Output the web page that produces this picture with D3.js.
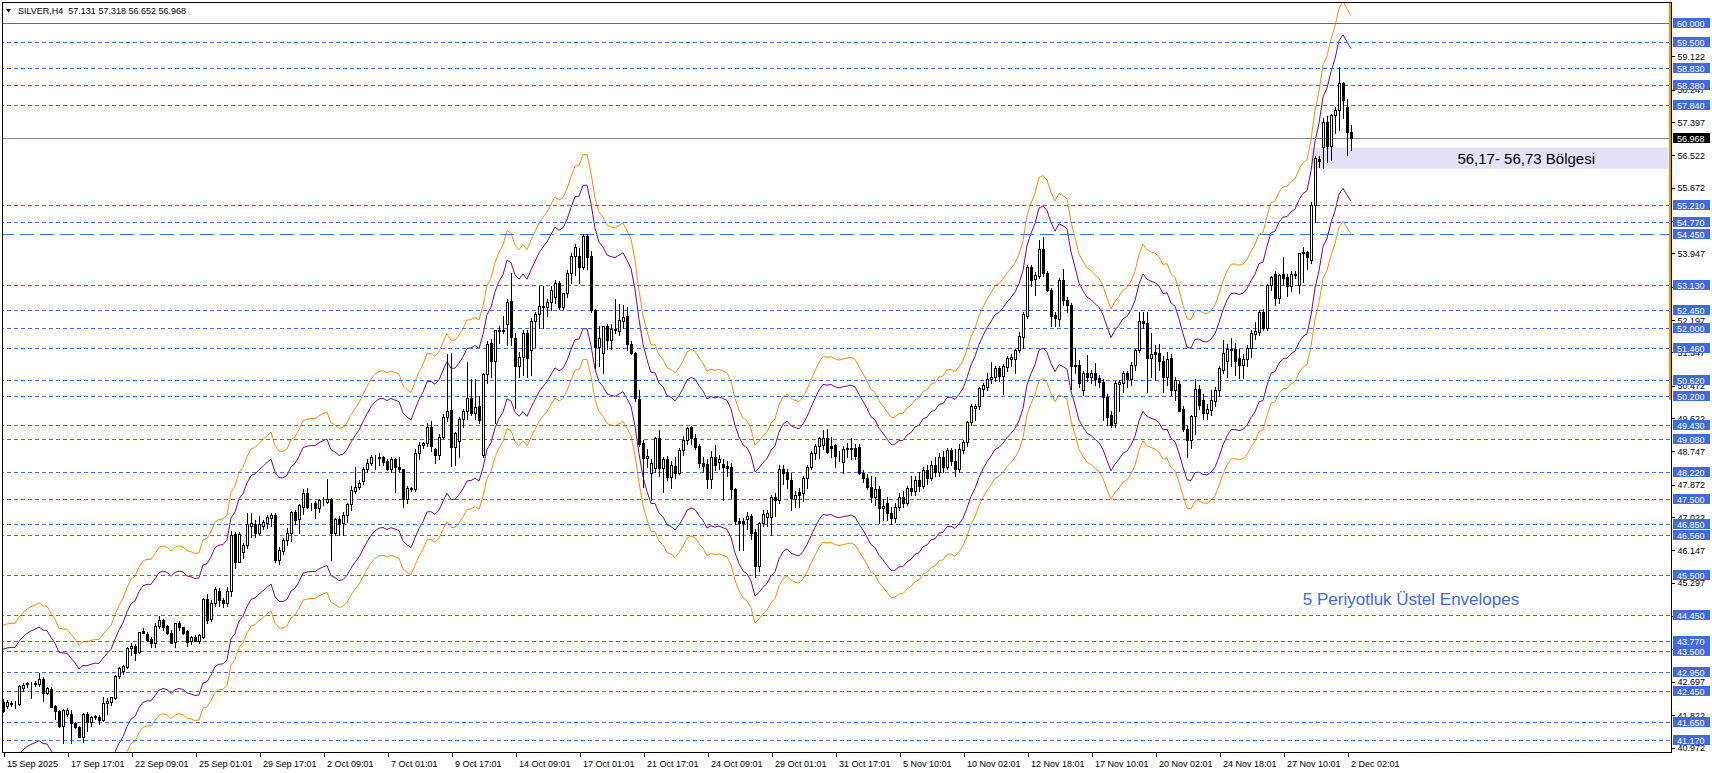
<!DOCTYPE html>
<html><head><meta charset="utf-8">
<script src="https://cdn.jsdelivr.net/npm/d3@7"></script>
<style>
body{margin:0;background:#fff;}
svg{display:block;font-family:"Liberation Sans",Arial,sans-serif;}
</style>
</head><body><svg id="c" width="1712" height="773"></svg>
<script>
// ---------------- DATA ----------------
const symbolTitle = "SILVER,H4";
const lastBarText = ["57.131", "57.318", "56.652", "56.968"];

const opens = [
42.18,42.05,42.12,42.14,42.12,42.53,42.65,42.66,42.64,42.64,42.76,42.41,42.50,42.05,41.94,41.54,41.85,41.85,41.61,41.50,
41.26,41.85,41.63,41.78,41.78,41.70,42.13,42.18,42.27,42.85,42.99,43.10,43.58,43.64,43.49,44.04,43.95,43.81,43.73,44.16,
44.32,44.16,43.99,43.75,44.25,44.13,44.02,43.78,43.88,43.78,43.88,44.86,44.34,44.78,45.09,44.85,44.76,45.07,46.58,45.85,
46.12,46.29,46.80,46.84,46.61,46.79,46.86,46.99,47.08,45.90,46.14,46.42,46.60,47.16,46.97,47.30,47.65,47.30,47.40,47.25,
47.46,47.43,47.49,46.60,46.97,46.86,47.08,47.37,47.72,47.81,47.96,48.28,48.45,48.59,48.60,48.59,48.51,48.28,48.54,48.33,
48.28,47.49,47.78,47.75,48.70,48.92,48.98,49.40,48.80,48.66,49.14,49.64,49.84,48.87,49.01,49.59,49.82,50.14,49.75,49.94,
48.66,50.78,51.59,51.13,51.92,51.90,52.10,52.71,51.72,50.98,51.24,51.87,51.41,52.18,52.36,52.55,52.55,52.66,52.80,53.16,
52.55,52.90,53.43,53.88,53.88,53.60,54.41,53.88,52.46,51.50,51.33,52.03,51.68,51.94,51.90,52.18,52.30,51.57,51.33,50.12,
48.98,48.57,48.17,48.31,49.09,48.31,48.54,48.09,48.37,48.19,48.79,49.05,49.38,49.09,48.89,48.45,48.42,48.02,48.61,48.48,
48.42,48.37,48.33,47.75,46.93,46.91,46.97,47.04,46.62,45.75,46.86,47.02,47.02,47.56,47.46,48.28,48.22,48.00,47.49,47.69,
47.65,48.04,48.33,48.70,48.88,48.92,49.09,48.89,48.92,48.66,48.48,48.83,48.80,48.83,48.86,48.17,48.04,47.82,47.56,47.75,
47.26,47.40,47.12,47.00,47.30,47.55,47.40,47.78,47.70,48.00,47.85,48.25,48.05,48.40,48.20,48.60,48.35,48.78,48.50,48.30,
48.79,49.00,49.53,49.90,49.93,50.38,50.45,50.64,50.71,50.93,50.73,50.96,51.17,51.17,51.41,51.76,52.31,53.60,53.27,53.36,
54.06,53.44,52.99,52.33,52.22,53.25,52.73,52.60,50.98,51.02,50.36,50.80,50.70,50.82,50.67,50.58,50.19,49.70,49.49,50.52,
50.54,50.80,50.64,51.02,51.41,52.18,52.13,51.19,51.37,51.33,51.13,50.71,51.19,50.36,50.52,49.85,49.35,49.05,49.68,50.38,
50.10,49.77,49.84,50.06,50.36,50.90,51.13,51.40,51.43,51.19,51.02,51.17,51.46,51.84,51.88,52.40,51.98,53.12,53.42,52.77,
53.42,53.32,53.08,53.40,53.12,53.95,53.98,53.77,55.22,56.42,56.75,57.41,56.77,57.58,57.72,58.42,57.80,57.131];

const highs = [
42.25,42.22,42.20,42.20,42.62,42.66,42.70,42.70,42.72,42.92,42.82,42.56,42.56,42.08,41.96,41.98,42.00,41.95,41.65,41.55,
41.87,41.90,41.80,41.82,41.82,42.31,42.28,42.31,42.88,43.08,43.15,43.60,43.72,43.70,44.01,44.10,44.00,43.88,44.25,44.42,
44.35,44.20,44.05,44.25,44.30,44.15,44.05,43.90,43.92,43.95,44.90,45.00,44.85,45.18,45.15,44.90,45.20,46.65,46.62,46.62,
46.35,47.12,47.14,46.95,47.04,46.95,47.08,47.14,47.14,46.25,46.48,46.75,47.18,47.20,47.38,47.75,47.80,47.40,47.45,47.50,
47.55,48.02,47.52,47.00,47.05,47.15,47.40,47.85,48.33,48.00,48.35,48.55,48.65,48.65,48.70,48.62,48.55,48.60,48.58,48.60,
48.30,47.85,47.82,48.80,49.00,49.00,49.50,49.55,48.85,49.20,49.72,51.30,51.33,49.25,49.65,49.85,51.11,50.64,50.64,50.20,
50.80,51.65,51.70,51.95,52.05,52.30,52.75,53.44,51.85,51.35,51.95,51.95,52.25,52.40,53.08,53.09,52.75,53.10,53.25,53.23,
52.90,53.52,53.95,54.20,54.10,54.45,54.45,54.00,52.50,52.03,52.03,52.10,52.10,52.74,52.62,52.60,52.55,51.65,51.35,50.35,
49.05,48.80,48.56,49.12,49.30,48.60,48.62,48.50,48.60,48.85,49.15,49.40,49.42,49.20,48.95,48.60,48.55,48.75,48.92,48.65,
48.55,48.50,48.45,47.80,47.00,47.00,47.17,47.10,46.70,46.90,47.20,47.20,47.60,47.65,48.39,48.39,48.30,48.17,47.70,47.80,
48.10,48.40,48.75,48.95,49.14,49.30,49.33,49.14,48.95,48.75,48.90,48.96,49.09,48.95,48.95,48.25,48.15,48.10,48.09,47.85,
47.50,47.55,47.30,47.40,47.65,47.70,47.85,48.10,48.10,48.20,48.35,48.40,48.50,48.60,48.70,48.75,48.85,48.85,48.80,48.95,
49.05,49.55,50.00,50.00,50.45,50.55,50.82,51.11,51.00,51.00,51.05,51.25,51.30,51.45,51.89,52.40,53.65,53.65,53.45,54.30,
54.39,53.50,53.05,52.40,53.30,53.53,52.80,52.65,51.46,51.15,50.85,51.28,50.90,51.08,50.75,50.65,50.25,49.80,50.60,50.62,
50.85,50.85,51.10,51.45,52.42,52.42,52.40,51.85,51.55,51.57,51.25,51.35,51.30,50.70,50.60,49.95,49.45,49.70,50.64,50.50,
50.25,50.00,50.36,50.45,51.00,51.67,51.57,51.72,51.60,51.45,51.30,51.55,51.95,52.15,52.45,52.48,53.15,53.35,53.50,53.42,
53.86,53.40,53.50,53.48,53.95,54.12,54.00,55.30,56.52,56.52,57.50,57.55,57.60,57.80,58.85,58.46,58.00,57.318];

const lows = [
41.90,42.00,42.05,42.02,42.08,42.45,42.55,42.27,42.60,42.60,42.20,42.38,42.03,41.71,41.50,41.08,41.80,41.10,41.48,41.24,
41.13,41.40,41.55,41.72,41.58,41.68,41.85,42.10,42.25,42.80,42.90,43.05,43.40,43.27,43.45,43.98,43.78,43.60,43.60,44.12,
44.05,43.95,43.72,43.62,44.05,43.95,43.65,43.70,43.76,43.72,43.85,44.25,44.30,44.70,44.70,44.65,44.70,44.95,45.70,45.85,
45.95,46.20,46.50,46.50,46.55,46.70,46.75,46.80,45.85,45.80,46.05,46.30,46.40,46.85,46.60,47.10,47.25,47.20,47.00,47.15,
47.35,47.40,45.90,46.55,46.55,46.55,46.90,47.20,47.65,47.75,47.90,48.20,48.40,48.30,48.40,48.38,48.25,48.20,47.69,48.20,
47.30,47.40,47.70,47.72,48.55,48.85,48.90,48.75,48.45,48.55,49.10,49.55,48.37,48.40,48.61,49.40,49.60,49.70,49.60,49.50,
48.60,50.55,50.70,49.50,51.60,51.85,51.55,51.55,49.88,50.70,50.75,50.70,50.75,51.50,52.00,51.98,52.30,52.45,52.65,52.50,
52.50,52.80,53.16,53.38,53.18,53.55,53.55,52.40,50.95,50.99,50.80,51.43,51.43,51.85,51.80,52.00,51.40,51.30,50.07,48.90,
47.82,48.35,47.47,48.20,48.10,47.69,48.00,47.80,48.05,48.15,48.65,48.95,48.95,48.80,48.35,48.20,47.78,47.80,48.25,48.30,
47.46,48.10,47.52,46.85,46.16,46.16,46.70,46.44,45.45,45.60,46.80,46.80,46.55,47.05,47.40,47.90,47.78,47.21,47.30,47.30,
47.45,47.80,48.30,48.55,48.57,48.80,48.70,48.60,48.33,48.50,48.17,48.60,48.55,48.55,48.15,47.95,47.75,47.43,47.35,46.86,
46.95,46.95,46.85,46.90,47.20,47.30,47.35,47.60,47.60,47.70,47.80,47.90,48.00,48.10,48.10,48.20,48.30,48.40,48.10,48.20,
48.70,48.90,49.45,49.58,49.85,50.20,50.35,50.55,50.60,50.60,50.26,50.85,51.00,50.82,51.35,51.46,52.25,53.10,52.86,53.30,
53.35,52.95,52.03,52.03,52.03,52.60,52.40,50.38,50.80,50.45,50.23,50.60,50.55,50.50,50.45,49.58,49.44,49.40,49.40,49.82,
50.30,50.45,50.50,50.90,51.35,52.00,50.32,50.70,50.62,50.90,50.32,50.50,50.23,50.10,49.80,49.28,48.60,48.83,49.20,49.85,
49.60,49.60,49.70,49.95,50.20,50.80,50.70,51.00,50.75,50.67,50.67,51.00,51.24,51.70,51.80,51.95,51.95,53.00,52.60,52.64,
53.15,52.84,52.95,53.30,52.90,53.20,53.55,53.70,54.78,56.22,56.18,56.36,56.40,57.10,57.20,57.50,56.53,56.652];

const closes = [
41.92,42.18,42.15,42.13,42.59,42.62,42.66,42.67,42.67,42.76,42.41,42.53,42.03,41.94,41.54,41.96,41.96,41.61,41.50,41.26,
41.85,41.65,41.77,41.79,41.70,42.13,42.20,42.29,42.85,43.05,43.11,43.58,43.64,43.45,44.01,43.99,43.80,43.73,44.16,44.32,
44.15,43.97,43.73,44.23,44.13,43.99,43.75,43.87,43.78,43.93,44.86,44.32,44.78,45.13,44.85,44.76,45.07,46.55,45.85,46.58,
46.29,46.84,46.86,46.61,46.84,46.90,47.02,47.08,45.90,46.16,46.42,46.61,47.16,46.95,47.34,47.65,47.30,47.28,47.25,47.46,
47.48,47.49,46.60,46.97,46.84,47.08,47.37,47.74,47.81,47.93,48.28,48.45,48.59,48.60,48.58,48.48,48.28,48.54,48.33,48.28,
47.49,47.78,47.75,48.70,48.92,48.98,49.40,48.89,48.66,49.14,49.64,49.82,48.87,49.22,49.59,49.82,50.14,49.75,49.91,49.57,
50.78,51.57,51.13,51.94,51.93,51.94,52.68,51.76,50.98,51.24,51.87,51.20,52.18,52.36,52.57,52.58,52.68,52.99,53.16,52.55,
52.90,53.43,53.88,54.11,53.60,54.41,53.86,52.46,51.50,51.72,52.03,51.68,51.96,51.97,52.20,52.27,51.57,51.33,50.14,48.94,
48.57,48.63,48.45,49.09,48.31,48.54,48.09,48.39,48.19,48.79,49.05,49.36,49.09,48.86,48.44,48.37,48.02,48.61,48.39,48.54,
48.35,48.31,47.75,46.91,46.88,46.86,47.04,46.60,45.75,46.88,47.10,47.12,47.56,47.46,48.28,48.19,48.02,47.52,47.61,47.61,
48.04,48.35,48.70,48.89,49.09,49.09,48.74,48.83,48.63,48.65,48.80,48.80,48.83,48.63,48.17,48.04,47.81,47.56,47.75,47.26,
47.32,47.12,47.00,47.30,47.55,47.40,47.78,47.70,48.00,47.85,48.25,48.05,48.40,48.20,48.60,48.35,48.78,48.50,48.30,48.80,
49.00,49.53,49.93,49.95,50.41,50.49,50.64,50.70,50.93,50.73,50.98,51.19,51.24,51.41,51.78,52.36,53.60,53.25,53.38,54.06,
53.43,52.99,52.31,52.24,53.25,52.73,52.60,50.98,51.02,50.54,50.80,50.70,50.82,50.64,50.58,50.19,49.66,49.44,50.54,50.56,
50.80,50.64,51.02,51.41,52.18,52.13,51.19,51.32,51.31,51.13,50.71,51.17,50.36,50.62,49.82,49.35,49.05,49.68,50.38,49.97,
49.77,49.85,50.10,50.36,50.93,51.34,51.43,51.45,51.13,51.02,51.17,51.46,51.85,51.92,52.40,51.98,53.12,53.32,52.77,53.38,
53.30,53.08,53.42,53.38,53.95,53.98,53.85,55.22,56.45,56.37,57.41,56.77,57.58,57.72,58.42,57.99,57.15,56.968];

const dateLabels = ["15 Sep 2025","17 Sep 17:01","22 Sep 09:01","25 Sep 01:01","29 Sep 17:01","2 Oct 09:01",
  "7 Oct 01:01","9 Oct 17:01","14 Oct 09:01","17 Oct 01:01","21 Oct 17:01","24 Oct 09:01","29 Oct 01:01",
  "31 Oct 17:01","5 Nov 10:01","10 Nov 02:01","12 Nov 18:01","17 Nov 10:01","20 Nov 02:01","24 Nov 18:01",
  "27 Nov 10:01","2 Dec 02:01"];
const barsPerLabel = 16;

const priceTicks = [59.122,58.247,57.397,56.522,55.672,54.797,53.947,53.072,52.197,51.347,50.472,49.622,
  48.747,47.872,47.022,46.147,45.297,44.422,43.572,42.697,41.822,40.972];

const solidLevels = [60.0];
const dottedLevels = [59.5,58.83,58.38,57.84,55.21,54.77,53.13,52.45,52.0,51.46,50.62,50.2,49.43,49.08,
  48.22,47.5,46.85,46.56,45.5,44.45,43.77,43.5,42.95,42.45,41.65,41.17];
const dashedLevels = [54.45];
const currentPrice = 56.968;

const zoneLow = 56.17, zoneHigh = 56.73;
const zoneText = "56,17- 56,73 Bölgesi";
const envelopeText = "5 Periyotluk Üstel Envelopes";

// Envelopes indicator settings (5 period exponential MA of Close)
const emaPeriod = 5;
const innerDeviation = 3.5;   // %
const outerDeviation = 5.0;   // %
const emaSeed = 42.16;        // MA value just before the first visible bar

// ---------------- CHART ----------------
const svg = d3.select("#c");
const W = 1712, H = 773;
const axisX = 1671, axisY = 752;
const blue = "#4169E1";

svg.append("rect").attr("width", W).attr("height", H).attr("fill", "#fff");

const n = closes.length;
const x = d3.scaleLinear().domain([0, 1]).range([3, 7]);   // 4 px per bar
const y = d3.scaleLinear().domain([60, 41.17]).range([23, 740]);

svg.append("clipPath").attr("id", "plot")
  .append("rect").attr("x", 3).attr("y", 3).attr("width", axisX - 3).attr("height", axisY - 3);

const plot = svg.append("g").attr("clip-path", "url(#plot)");

// zone rectangle
plot.append("rect")
  .attr("x", x(327)).attr("y", y(zoneHigh))
  .attr("width", axisX - 3 - x(327)).attr("height", y(zoneLow) - y(zoneHigh))
  .attr("fill", "#e3e3f7");

// envelopes
const alpha = 2 / (emaPeriod + 1);
const ema = [];
let prev = emaSeed;
closes.forEach(v => { prev = prev + alpha * (v - prev); ema.push(prev); });
const env = [
  {k: 1 + outerDeviation / 100, color: "#FF8C00"},
  {k: 1 - outerDeviation / 100, color: "#FF8C00"},
  {k: 1 + innerDeviation / 100, color: "#800080"},
  {k: 1 - innerDeviation / 100, color: "#800080"}
];
const line = d3.line().x((d, i) => x(i)).y(d => y(d));
plot.selectAll("path.env").data(env).join("path")
  .attr("class", "env")
  .attr("d", e => line(ema.map(v => v * e.k)))
  .attr("fill", "none").attr("stroke", e => e.color).attr("stroke-width", 1);

// level lines
const levels = plot.append("g").attr("shape-rendering", "crispEdges");
levels.selectAll("line.dot").data(dottedLevels).join("line")
  .attr("class", "dot")
  .attr("x1", 0).attr("x2", axisX)
  .attr("y1", d => Math.round(y(d)) + 0.5).attr("y2", d => Math.round(y(d)) + 0.5)
  .attr("stroke", blue).attr("stroke-dasharray", "4,3");
levels.selectAll("line.dash").data(dashedLevels).join("line")
  .attr("class", "dash")
  .attr("x1", 0).attr("x2", axisX)
  .attr("y1", d => Math.round(y(d)) + 0.5).attr("y2", d => Math.round(y(d)) + 0.5)
  .attr("stroke", blue).attr("stroke-dasharray", "14,6");
levels.selectAll("line.solid").data(solidLevels).join("line")
  .attr("class", "solid")
  .attr("x1", 0).attr("x2", axisX)
  .attr("y1", d => Math.round(y(d)) + 0.5).attr("y2", d => Math.round(y(d)) + 0.5)
  .attr("stroke", blue);
levels.append("line")
  .attr("x1", 0).attr("x2", axisX)
  .attr("y1", Math.round(y(currentPrice)) + 0.5).attr("y2", Math.round(y(currentPrice)) + 0.5)
  .attr("stroke", "#7d8794");

// candles
const bars = d3.range(n).map(i => ({i, o: opens[i], h: highs[i], l: lows[i], c: closes[i]}));
const cg = plot.append("g").attr("shape-rendering", "crispEdges");
cg.selectAll("line.wick").data(bars).join("line")
  .attr("class", "wick")
  .attr("x1", d => x(d.i) + 0.5).attr("x2", d => x(d.i) + 0.5)
  .attr("y1", d => Math.round(y(d.h))).attr("y2", d => Math.round(y(d.l)) + 1)
  .attr("stroke", "#000");
cg.selectAll("rect.body").data(bars).join("rect")
  .attr("class", "body")
  .attr("x", d => x(d.i) - 0.5)
  .attr("y", d => Math.round(y(Math.max(d.o, d.c))) + 0.5)
  .attr("width", 2)
  .attr("height", d => Math.max(0, Math.round(y(Math.min(d.o, d.c))) - Math.round(y(Math.max(d.o, d.c)))))
  .attr("fill", d => d.c >= d.o ? "#fff" : "#000")
  .attr("stroke", "#000");

// texts in plot
plot.append("text").attr("x", 1595).attr("y", y(zoneLow) - 5)
  .attr("text-anchor", "end").attr("font-size", 15).attr("fill", "#000").text(zoneText);
plot.append("text").attr("x", 1411).attr("y", 605)
  .attr("text-anchor", "middle").attr("font-size", 17).attr("fill", blue).text(envelopeText);

// frame
const fr = svg.append("g").attr("shape-rendering", "crispEdges");
fr.append("line").attr("x1", 2.5).attr("x2", 2.5).attr("y1", 2).attr("y2", axisY).attr("stroke", "#000");
fr.append("line").attr("x1", 2).attr("x2", axisX).attr("y1", 2.5).attr("y2", 2.5).attr("stroke", "#000");
fr.append("rect").attr("x", axisX - 2).attr("y", 3).attr("width", 2).attr("height", 397).attr("fill", "#FF8C00");
fr.append("line").attr("x1", axisX + 0.5).attr("x2", axisX + 0.5).attr("y1", 2).attr("y2", axisY + 1).attr("stroke", "#000");
fr.append("line").attr("x1", 2).attr("x2", axisX + 1).attr("y1", axisY + 0.5).attr("y2", axisY + 0.5).attr("stroke", "#000");

// right price axis
const yAxis = d3.axisRight(y).tickValues(priceTicks).tickSize(3).tickPadding(3).tickFormat(d3.format(".3f"));
const ya = svg.append("g").attr("transform", `translate(${axisX + 0.5},0)`).call(yAxis);
ya.select(".domain").remove();
ya.selectAll("text").attr("font-size", 9).attr("font-family", "Liberation Sans, Arial, sans-serif").attr("fill", "#000");
ya.selectAll("line").attr("stroke", "#000").attr("shape-rendering", "crispEdges");

// level labels
const labelData = [...solidLevels, ...dottedLevels, ...dashedLevels].map(v => ({v, bg: blue}));
labelData.push({v: currentPrice, bg: "#000"});
const lg = svg.append("g");
const lab = lg.selectAll("g").data(labelData).join("g")
  .attr("transform", d => `translate(${axisX + 2},${Math.round(y(d.v))})`);
lab.append("rect").attr("x", 0).attr("y", -5).attr("width", 37).attr("height", 10)
  .attr("fill", d => d.bg).attr("shape-rendering", "crispEdges");
lab.append("text").attr("x", 4).attr("y", 3.5).attr("font-size", 9).attr("fill", "#fff")
  .text(d => d3.format(".3f")(d.v));

// bottom time axis
const tickIdx = dateLabels.map((d, k) => k * barsPerLabel);
const xAxis = d3.axisBottom(x).tickValues(tickIdx).tickSize(4).tickPadding(2)
  .tickFormat((d, k) => dateLabels[k]);
const xa = svg.append("g").attr("transform", `translate(0.5,${axisY + 0.5})`).call(xAxis);
xa.select(".domain").remove();
xa.selectAll("line").attr("stroke", "#000").attr("shape-rendering", "crispEdges");
xa.selectAll("text").attr("text-anchor", "start").attr("x", 3).attr("dy", "0.9em")
  .attr("font-size", 9).attr("font-family", "Liberation Sans, Arial, sans-serif").attr("fill", "#000");

// header
svg.append("path").attr("d", "M6,9 L11,9 L8.5,12.5 Z").attr("fill", "#000");
svg.append("text").attr("x", 18).attr("y", 14).attr("font-size", 9).attr("fill", "#000")
  .style("white-space", "pre").text(symbolTitle + "  " + lastBarText.join(" "));
</script>
</body></html>
